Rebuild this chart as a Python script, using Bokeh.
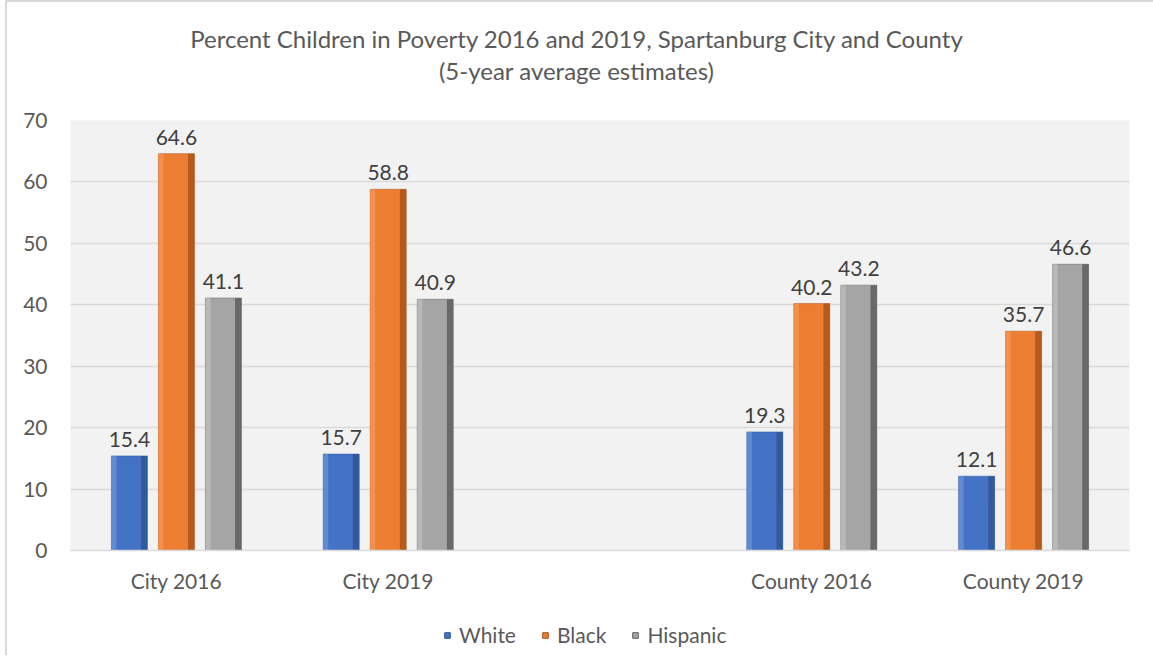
from bokeh.plotting import figure
from bokeh.models import ColumnDataSource, FactorRange, Legend, LegendItem, LabelSet, SingleIntervalTicker, Div, Range1d
from bokeh.layouts import column
from bokeh.transform import dodge
from bokeh.core.properties import value
from bokeh.embed import file_html
from bokeh.resources import INLINE

categories = ["City 2016", "City 2019", " ", "County 2016", "County 2019"]
white = [15.4, 15.7, None, 19.3, 12.1]
black = [64.6, 58.8, None, 40.2, 35.7]
hispanic = [41.1, 40.9, None, 43.2, 46.6]
series = ["White", "Black", "Hispanic"]
title_lines = ["Percent Children in Poverty 2016 and 2019, Spartanburg City and County",
               "(5-year average estimates)"]

FONT = "Lato"
TXT = "#595959"

title = Div(text=("<div style='width:1153px;text-align:center;font-family:Lato;font-size:24px;"
                  "line-height:32px;color:#595959;padding-top:23px'>" + "<br>".join(title_lines) + "</div>"),
            width=1153, height=100, margin=0)

p = figure(x_range=FactorRange(*categories), y_range=(0, 70), frame_width=1059, frame_height=430,
           output_backend="svg", toolbar_location=None,
           min_border_left=70, min_border_right=24, min_border_top=20, min_border_bottom=65,
           background_fill_color="#F2F2F2", border_fill_color="white", border_fill_alpha=0,
           outline_line_color=None, margin=0)

cols = {"White": ("#4472C4", "#2F5597", "#7A9FE0"),
        "Black": ("#ED7D31", "#A9531A", "#F7A164"),
        "Hispanic": ("#A5A5A5", "#5E5E5E", "#C8C8C8")}
vals = {"White": white, "Black": black, "Hispanic": hispanic}
offs = {"White": -0.222, "Black": 0.0, "Hispanic": 0.222}
W = 0.17

# separate strip below the chart that holds the legend (its own glyphs fall outside its 0..1 ranges)
pl = figure(width=1153, height=40, x_range=Range1d(0, 1), y_range=Range1d(0, 1),
            x_axis_type=None, y_axis_type=None, output_backend="svg", toolbar_location=None,
            min_border=0, outline_line_color=None, background_fill_alpha=0, border_fill_alpha=0,
            margin=0)
pl.xgrid.visible = False
pl.ygrid.visible = False

items = []
for s in series:
    ys = [v if v is not None else 0.0 for v in vals[s]]
    src = ColumnDataSource(dict(x=categories, y=ys,
                                lab=[f"{v:.1f}" if v is not None else "" for v in vals[s]]))
    base, dark, light = cols[s]
    p.vbar(x=dodge("x", offs[s], range=p.x_range), top="y", width=W, source=src,
           fill_color=base, line_color=dark, line_width=0.5)
    p.vbar(x=dodge("x", offs[s] + W / 2 - 0.015, range=p.x_range), top="y", width=0.03, source=src,
           fill_color=dark, fill_alpha=0.85, line_color=None)
    p.vbar(x=dodge("x", offs[s] - W / 2 + 0.012, range=p.x_range), top="y", width=0.024, source=src,
           fill_color=light, fill_alpha=0.55, line_color=None)
    p.add_layout(LabelSet(x=dodge("x", offs[s], range=p.x_range), y="y", text="lab", source=src,
                          text_align="center", text_baseline="bottom", y_offset=9,
                          text_font=value(FONT), text_font_size=value("21px"), text_color="#404040"))
    present = [v for v in vals[s] if v is not None]
    lr = pl.square(x=present, y=present, size=14, fill_color=base, line_color=dark, line_width=1)
    items.append(LegendItem(label=s, renderers=[lr]))

legend = Legend(items=items, orientation="horizontal", location=(370, 8),
                label_text_font=FONT, label_text_font_size="21px", label_text_color=TXT,
                border_line_color=None, background_fill_alpha=0, glyph_width=14, glyph_height=14,
                spacing=22, label_standoff=5, margin=0, padding=0)
pl.add_layout(legend)

p.yaxis.ticker = SingleIntervalTicker(interval=10)
p.yaxis.axis_line_color = None
p.yaxis.major_tick_line_color = None
p.yaxis.minor_tick_line_color = None
p.yaxis.major_label_text_font = FONT
p.yaxis.major_label_text_font_size = "21px"
p.yaxis.major_label_text_color = TXT
p.yaxis.major_label_standoff = 17

p.xaxis.axis_line_color = "#D9D9D9"
p.xaxis.axis_line_width = 1.5
p.xaxis.major_tick_line_color = None
p.xaxis.minor_tick_line_color = None
p.xaxis.major_label_text_font = FONT
p.xaxis.major_label_text_font_size = "21px"
p.xaxis.major_label_text_color = TXT
p.xaxis.major_label_standoff = 11

p.xgrid.grid_line_color = None
p.ygrid.grid_line_color = "#D9D9D9"
p.ygrid.grid_line_width = 1.5
p.x_range.range_padding = 0

layout = column(title, p, pl, spacing=0, margin=0,
                styles={"background": "linear-gradient(#D9D9D9,#D9D9D9) 5px 0px / 2px 100% no-repeat, "
                                      "linear-gradient(#D9D9D9,#D9D9D9) 5px 0px / 100% 2px no-repeat, white"})
open("out.html", "w").write(file_html(layout, INLINE))
